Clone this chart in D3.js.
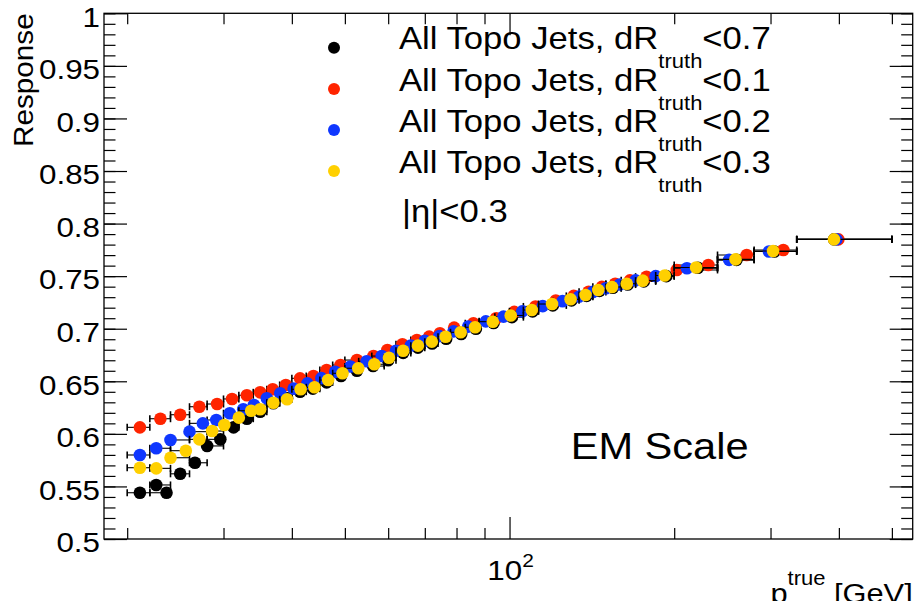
<!DOCTYPE html>
<html>
<head>
<meta charset="utf-8">
<script src="https://cdn.jsdelivr.net/npm/d3@7"></script>
<style>
  body { margin: 0; background: #fff; }
  svg { display: block; font-family: "Liberation Sans", Arial, sans-serif; }
</style>
</head>
<body>
<div id="wrapper"></div>
<script>
// ---- data ----
// horizontal error bars span the pT bin that holds the point
const binEdges = [20, 22, 24, 26, 28, 30, 32, 34, 36, 38, 40, 42.5, 45, 47.5, 50, 53, 56, 59, 62, 66,
    70, 74, 78, 83, 88, 94, 100, 106, 113, 120, 127, 134, 142, 150, 160, 170, 185, 200, 240, 280, 335, 500];

// dR < 0.7 (black)
const blackPt = [21.1, 22.6, 23.6, 25.0, 26.6, 28.0, 29.6, 31.3, 33.1, 35.0, 37.0, 39.2, 41.4,
    43.7, 46.3, 49.2, 52.6, 56.3, 60.0, 63.9, 68.0, 72.2, 76.6, 81.6, 86.8, 93.5, 101.0, 110.2,
    120.0, 129.8, 138.3, 146.0, 154.5, 164.5, 176.0, 193.5, 221.0, 260.0, 305.0, 392.0];
const blackResp = [0.5440, 0.5514, 0.5440, 0.5620, 0.5725, 0.5885, 0.5948, 0.6062, 0.6144, 0.6211, 0.6291, 0.6338, 0.6401,
    0.6430, 0.6490, 0.6550, 0.6600, 0.6645, 0.6700, 0.6770, 0.6820, 0.6860, 0.6905, 0.6950, 0.7000, 0.7055, 0.7110, 0.7165,
    0.7222, 0.7270, 0.7312, 0.7360, 0.7390, 0.7420, 0.7450, 0.7500, 0.7580, 0.7655, 0.7735, 0.7850];

// dR < 0.1 (red)
const redPt = [21.1, 23.0, 25.0, 27.1, 29.2, 31.1, 33.1, 35.0, 36.9, 39.0, 41.4, 43.8, 46.3, 49.1,
    52.6, 56.4, 59.8, 63.7, 67.7, 71.3, 74.6, 79.2, 85.9, 94.5, 102.0, 111.5, 121.5, 131.0, 139.5,
    147.5, 156.0, 166.0, 178.0, 202.2, 230.9, 271.4, 316.6, 399.2];
const redResp = [0.6062, 0.6144, 0.6182, 0.6258, 0.6284, 0.6332, 0.6367, 0.6395, 0.6424, 0.6465, 0.6528, 0.6550, 0.6607, 0.6655,
    0.6702, 0.6741, 0.6798, 0.6852, 0.6893, 0.6925, 0.6957, 0.7010, 0.7052, 0.7100, 0.7160, 0.7212, 0.7268, 0.7312, 0.7352,
    0.7398, 0.7428, 0.7460, 0.7495, 0.7559, 0.7606, 0.7701, 0.7749, 0.7850];

// dR < 0.2 (blue)
const bluePt = [21.1, 22.6, 24.0, 26.0, 27.5, 29.1, 30.8, 32.6, 34.1, 36.0, 38.1,
    40.3, 42.7, 45.3, 48.0, 51.2, 54.8, 58.4, 62.0, 66.0, 70.0, 74.4, 79.0, 84.0, 90.5, 97.5,
    105.5, 115.0, 125.0, 134.0, 142.0, 150.0, 159.0, 170.0, 185.0, 211.0, 252.0, 298.0, 396.0];
const blueResp = [0.5799, 0.5863, 0.5942, 0.6021, 0.6100, 0.6132, 0.6196, 0.6234, 0.6275, 0.6338, 0.6386,
    0.6430, 0.6480, 0.6530, 0.6590, 0.6640, 0.6690, 0.6740, 0.6790, 0.6840, 0.6885, 0.6930, 0.6975, 0.7020, 0.7070, 0.7115,
    0.7165, 0.7215, 0.7262, 0.7305, 0.7350, 0.7385, 0.7420, 0.7460, 0.7500, 0.7575, 0.7655, 0.7735, 0.7850];

// dR < 0.3 (yellow)
const yellowPt = [21.1, 22.6, 24.0, 25.6, 27.1, 28.6, 30.1, 32.0, 33.7, 35.0, 37.0, 39.2, 41.5, 44.0,
    46.6, 49.5, 52.9, 56.6, 60.2, 63.9, 68.0, 72.1, 76.4, 81.4, 86.5, 93.2, 100.5, 109.8, 119.6,
    129.3, 137.7, 145.3, 153.9, 163.8, 175.1, 192.2, 219.3, 258.9, 303.2, 391.9];
const yellowResp = [0.5678, 0.5672, 0.5773, 0.5840, 0.5948, 0.6027, 0.6084, 0.6154, 0.6220, 0.6234, 0.6296, 0.6329, 0.6424, 0.6443,
    0.6512, 0.6576, 0.6624, 0.6662, 0.6724, 0.6791, 0.6839, 0.6877, 0.6924, 0.6966, 0.7014, 0.7067, 0.7126, 0.7178, 0.7235,
    0.7280, 0.7321, 0.7368, 0.7397, 0.7428, 0.7457, 0.7506, 0.7582, 0.7660, 0.7739, 0.7850];

const legendCuts = ['<0.7', '<0.1', '<0.2', '<0.3'];
const seriesColors = ['#000000', '#ff2400', '#0f37ff', '#ffd000'];
const yTickLabels = ['0.5', '0.55', '0.6', '0.65', '0.7', '0.75', '0.8', '0.85', '0.9', '0.95', '1'];
const xMinorTicks = [20, 30, 40, 50, 60, 70, 80, 90, 200, 300, 400, 500];
const xMajorTicks = [100];

const series = [
    { pt: blackPt, resp: blackResp },
    { pt: redPt, resp: redResp },
    { pt: bluePt, resp: blueResp },
    { pt: yellowPt, resp: yellowResp }
].map((s, i) => ({ ...s, color: seriesColors[i], cut: legendCuts[i] }));

// ---- dimensions ----
const dimensions = {
    width: 916,
    height: 601,
    margin: { top: 13.3, right: 3.3, bottom: 62, left: 104 }
};
const boundedWidth = dimensions.width - dimensions.margin.left - dimensions.margin.right;
const boundedHeight = dimensions.height - dimensions.margin.top - dimensions.margin.bottom;

const svg = d3.select('#wrapper').append('svg')
    .attr('width', dimensions.width)
    .attr('height', dimensions.height);

const bounds = svg.append('g')
    .attr('transform', `translate(${dimensions.margin.left}, ${dimensions.margin.top})`);

// ROOT's Helvetica is a bit wider than Liberation Sans
const stretch = 1.1;
function addText(parent, x, y, size, anchor) {
    return parent.append('text')
        .attr('transform', `translate(${x},${y}) scale(${stretch},1)`)
        .attr('font-size', size)
        .attr('text-anchor', anchor || 'start')
        .attr('fill', '#000');
}

// ---- scales ----
const xScale = d3.scaleLog()
    .domain([18.14, 545.8])
    .range([0, boundedWidth]);

const yScale = d3.scaleLinear()
    .domain([0.5, 1])
    .range([boundedHeight, 0]);

// ---- axes (ticks point inward on all four sides) ----
const yMajor = yTickLabels.map(Number);
const yMinor = yScale.ticks(50);

function tickAxis(gen, values, size, transform) {
    const g = bounds.append('g')
        .attr('transform', transform || null)
        .call(gen.tickValues(values).tickSize(-size).tickSizeOuter(0).tickFormat(''));
    g.select('.domain').remove();
    g.selectAll('line').attr('stroke', '#000').attr('stroke-width', 1.2);
    return g;
}

tickAxis(d3.axisLeft(yScale), yMinor, 11.5);
tickAxis(d3.axisLeft(yScale), yMajor, 23);
tickAxis(d3.axisRight(yScale), yMinor, 11.5, `translate(${boundedWidth},0)`);
tickAxis(d3.axisRight(yScale), yMajor, 23, `translate(${boundedWidth},0)`);
tickAxis(d3.axisBottom(xScale), xMinorTicks, 11, `translate(0,${boundedHeight})`);
tickAxis(d3.axisBottom(xScale), xMajorTicks, 22, `translate(0,${boundedHeight})`);
tickAxis(d3.axisTop(xScale), xMinorTicks, 11);
tickAxis(d3.axisTop(xScale), xMajorTicks, 22);

bounds.append('rect')
    .attr('width', boundedWidth)
    .attr('height', boundedHeight)
    .attr('fill', 'none')
    .attr('stroke', '#000')
    .attr('stroke-width', 1.3);

// y tick labels
yTickLabels.forEach(label => {
    addText(svg, 100, dimensions.margin.top + yScale(+label) + 13.3, 28.5, 'end').text(label);
});

// x tick label 10^2
const lbl = addText(svg, dimensions.margin.left + xScale(100) + 1, 579.5, 28.5, 'middle');
lbl.append('tspan').text('10');
lbl.append('tspan').attr('font-size', 19).attr('dy', -13).text('2');

// axis titles
svg.append('text')
    .attr('transform', `translate(33.3,13.3) rotate(-90) scale(${stretch},1)`)
    .attr('font-size', 27)
    .attr('text-anchor', 'end')
    .text('Response');

// x title sits partly below the picture edge, as in the original
const xt = addText(svg, 912.7, 603, 28, 'end');
xt.append('tspan').text('p');
xt.append('tspan').attr('font-size', 20).attr('dy', -18).text('true');
xt.append('tspan').attr('dy', 18).text(' [GeV]');

// ---- data marks ----
function binOf(pt) {
    const i = d3.bisectRight(binEdges, pt) - 1;
    return [binEdges[Math.max(0, i)], binEdges[Math.min(binEdges.length - 1, i + 1)]];
}

series.forEach(s => {
    const g = bounds.append('g');
    const pts = s.pt.map((p, i) => ({ pt: p, resp: s.resp[i], bin: binOf(p) }));

    // horizontal error bars with end ticks
    const err = g.selectAll('g.err').data(pts).join('g').attr('class', 'err')
        .attr('stroke', '#000').attr('stroke-width', 1.1);
    err.append('line')
        .attr('x1', d => xScale(d.bin[0])).attr('x2', d => xScale(d.bin[1]))
        .attr('y1', d => yScale(d.resp)).attr('y2', d => yScale(d.resp));
    err.append('line')
        .attr('stroke-width', 1.6)
        .attr('x1', d => xScale(d.bin[0])).attr('x2', d => xScale(d.bin[0]))
        .attr('y1', d => yScale(d.resp) - 3.5).attr('y2', d => yScale(d.resp) + 3.5);
    err.append('line')
        .attr('stroke-width', 1.6)
        .attr('x1', d => xScale(d.bin[1])).attr('x2', d => xScale(d.bin[1]))
        .attr('y1', d => yScale(d.resp) - 3.5).attr('y2', d => yScale(d.resp) + 3.5);

    g.selectAll('circle').data(pts).join('circle')
        .attr('cx', d => xScale(d.pt))
        .attr('cy', d => yScale(d.resp))
        .attr('r', 6.3)
        .attr('fill', s.color);
});

// ---- legend ----
const legendBaselines = [49.3, 90.7, 131.7, 172.7];
series.forEach((s, i) => {
    svg.append('circle')
        .attr('cx', 334)
        .attr('cy', legendBaselines[i] - 1.6)
        .attr('r', 6)
        .attr('fill', s.color);
    const t = addText(svg, 399, legendBaselines[i], 31.5);
    t.append('tspan').text('All Topo Jets, dR');
    t.append('tspan').attr('font-size', 20).attr('dy', 19).text('truth');
    t.append('tspan').attr('dy', -19).text(s.cut);
});

addText(svg, 402, 221.7, 31.5).text('|η|<0.3');

addText(svg, 570.7, 459.3, 37.8).text('EM Scale');
</script>
</body>
</html>
